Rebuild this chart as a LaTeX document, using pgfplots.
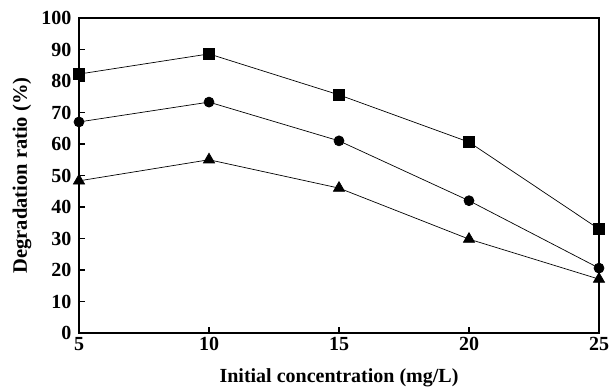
\documentclass[border=0pt]{standalone}
\usepackage{fontspec}
\setmainfont{Liberation Serif}
\usepackage{pgfplots}
\pgfplotsset{compat=1.18}
\begin{document}
\begin{tikzpicture}
\begin{axis}[
  name=ax,
  scale only axis,
  width=520pt, height=315pt,
  xmin=5, xmax=25, ymin=0, ymax=100,
  xtick={5,10,15,20,25}, ytick={0,10,...,100},
  xtick pos=bottom, ytick pos=left,
  tick align=inside,
  major tick length=6pt,
  axis line style={line width=1.6pt},
  every tick/.style={line width=1.4pt, black},
  /pgf/number format/assume math mode=true,
  ticklabel style={font=\fontsize{20}{22}\selectfont\bfseries},
  xlabel={Initial concentration (mg/L)},
  ylabel={Degradation ratio (\%)},
  every axis x label/.style={at={(axis description cs:0.5,-0.143)}, anchor=center, font=\fontsize{20}{22}\selectfont\bfseries},
  every axis y label/.style={at={(axis description cs:-0.1096,0.5)}, anchor=center, rotate=90, font=\fontsize{20.5}{22}\selectfont\bfseries},
  xticklabel style={yshift=-1pt},
  yticklabel style={xshift=-4pt},
  clip=false,
]
\addplot[black, line width=0.7pt, mark=square*, mark size=5.5pt] coordinates {
  (5,82.2) (10,88.6) (15,75.6) (20,60.6) (25,33.0)};
\addplot[black, line width=0.7pt, mark=*, mark size=5pt] coordinates {
  (5,67) (10,73.3) (15,61) (20,42) (25,20.6)};
\addplot[black, line width=0.7pt, mark=triangle*, mark size=6.5pt] coordinates {
  (5,48.3) (10,55) (15,46) (20,29.8) (25,17.1)};
\end{axis}
\pgfresetboundingbox
\path ([shift={(-79pt,-55pt)}]ax.south west) rectangle ([shift={(10pt,18pt)}]ax.north east);
\end{tikzpicture}
\end{document}
